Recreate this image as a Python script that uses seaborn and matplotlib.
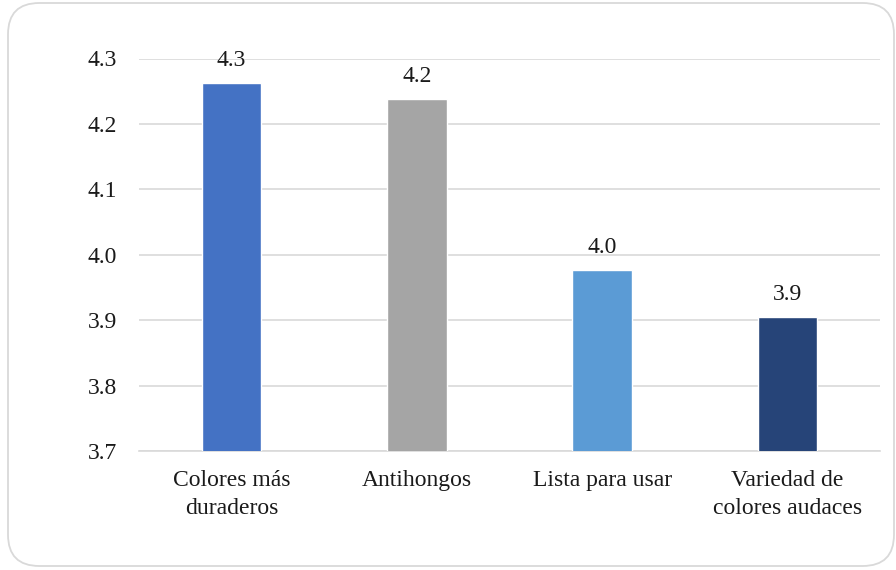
import matplotlib
matplotlib.use("Agg")
import matplotlib.pyplot as plt
from matplotlib.patches import FancyBboxPatch
import seaborn as sns
import pandas as pd

# Average rating per paint attribute
categories = ["Colores más\nduraderos", "Antihongos", "Lista para usar",
              "Variedad de\ncolores audaces"]
scores = [4.263, 4.238, 3.977, 3.905]
bar_colors = ["#4472C4", "#A5A5A5", "#5B9BD5", "#264478"]
y_ticks = [3.7, 3.8, 3.9, 4.0, 4.1, 4.2, 4.3]

df = pd.DataFrame({"atributo": categories, "puntaje": scores})

sns.set_theme(style="white")
plt.rcParams["font.family"] = ["Liberation Serif", "DejaVu Serif"]

fig = plt.figure(figsize=(8.96, 5.70), dpi=100)
ax = fig.add_axes([139 / 896, 1 - 451 / 570, 741 / 896, (451 - 58.5) / 570])

sns.barplot(data=df, x="atributo", y="puntaje", hue="atributo",
            palette=bar_colors, legend=False, width=0.32, ax=ax,
            saturation=1, zorder=3)

ax.set_ylim(3.7, 4.3)
ax.set_yticks(y_ticks)
ax.set_yticklabels([f"{t:.1f}" for t in y_ticks])
ax.set_xlim(-0.5, len(categories) - 0.5)
ax.yaxis.grid(True, color="#D9D9D9", linewidth=1.2, zorder=0)
ax.set_axisbelow(True)
for side in ["top", "right", "left"]:
    ax.spines[side].set_visible(False)
ax.spines["bottom"].set_color("#D9D9D9")
ax.spines["bottom"].set_linewidth(1.2)
ax.set_xlabel("")
ax.set_ylabel("")
ax.tick_params(axis="both", length=0, labelsize=17, colors="#1a1a1a")
ax.tick_params(axis="y", pad=16)
ax.tick_params(axis="x", pad=14)
for lbl in ax.get_xticklabels():
    lbl.set_linespacing(1.4)

for i, v in enumerate(scores):
    ax.annotate(f"{v:.1f}", (i, v), xytext=(0, 12), textcoords="offset points",
                ha="center", va="baseline", fontsize=17, color="#1a1a1a")

# Rounded frame around the chart
frame = FancyBboxPatch((8 / 896, 4 / 570), 886 / 896, 563 / 570,
                       boxstyle="round,pad=0,rounding_size=0.035",
                       transform=fig.transFigure, fill=False,
                       edgecolor="#D9D9D9", linewidth=1.3,
                       mutation_aspect=896 / 570)
fig.patches.append(frame)

fig.savefig("out.png", dpi=100, facecolor="white")
